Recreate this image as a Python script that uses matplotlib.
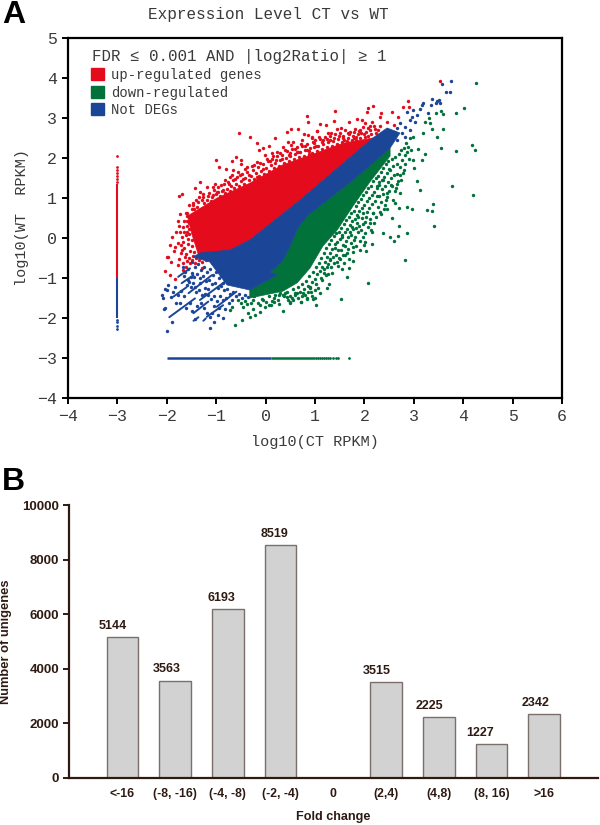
import numpy as np
import matplotlib
matplotlib.use("Agg")
import matplotlib.pyplot as plt
from matplotlib.patches import Patch, Polygon

# --- panel A in axis units (log10 RPKM) ---
# solid parts of the cloud, as outlines
up_core = [(-1.58, 0.55), (-1.5, 0.125), (-1.36, -0.42), (-0.72, -0.3), (-0.32, -0.05), (0.70, 0.95),
           (2.17, 2.5), (1.57, 2.37), (0.90, 2.07), (0.35, 1.83), (-0.32, 1.37), (-0.98, 1.0)]
notdeg_core = [(-1.47, -0.475), (-1.13, -0.6), (-0.78, -1.175), (-0.32, -1.3), (0.23, -0.925), (0.09, -0.85),
               (0.33, -0.6), (0.49, -0.225), (0.66, 0.275), (0.86, 0.575), (1.77, 1.45), (2.52, 2.25),
               (2.72, 2.625), (2.46, 2.75), (2.17, 2.5), (0.70, 0.95), (-0.32, -0.05), (-0.72, -0.3), (-1.33, -0.375)]
down_core = [(-0.32, -1.5), (0.35, -1.33), (0.64, -1.12), (0.90, -0.75), (1.16, -0.2), (1.45, 0.2),
             (1.77, 0.8), (2.11, 1.4), (2.52, 2.05), (2.52, 2.25), (1.77, 1.45), (0.86, 0.575), (0.66, 0.275),
             (0.49, -0.225), (0.33, -0.6), (0.09, -0.85), (0.23, -0.925), (-0.32, -1.3)]

# single dots outside the solid parts
up_points = [(0.83, 3.06), (0.85, 2.91), (-0.54, 2.62), (-0.32, 2.53), (-0.18, 2.38), (0.20, 2.49), (0.43, 2.64),
             (0.52, 2.72), (0.65, 2.72), (0.46, 2.41), (0.56, 2.41), (0.73, 2.45), (0.78, 2.59), (0.86, 2.57),
             (1.05, 2.68), (0.93, 2.49), (-1.01, 1.95), (-0.94, 1.77), (-0.59, 2.03), (-0.68, 1.92), (-0.50, 1.95),
             (-0.49, 1.85), (-0.80, 1.72), (-0.67, 1.70), (-1.33, 1.39), (-1.70, 1.10), (-1.75, 1.06), (-1.42, 1.26),
             (-1.18, 1.27), (-1.06, 1.28), (-0.82, 1.45), (-0.72, 1.53), (-0.52, 1.57), (-0.38, 1.77), (-0.28, 1.80),
             (-0.17, 1.91), (-0.05, 2.24), (0.07, 2.30), (-0.13, 2.20), (-0.01, 2.07), (0.12, 2.12), (0.24, 2.16),
             (0.36, 2.28), (0.49, 2.12), (0.63, 2.16), (0.83, 2.20), (0.98, 2.37), (-1.46, 0.87), (-1.60, 0.63),
             (-1.26, 1.03), (-0.96, 1.16),
             (-1.62, 0.63), (-1.46, 0.82), (-1.78, 0.43), (-1.56, 0.37), (-1.90, 0.02), (-1.73, 0.16), (-1.60, 0.16),
             (-1.77, -0.12), (-1.94, -0.18), (-1.83, -0.22), (-1.97, -0.47), (-2.0, -0.48), (-1.70, -0.30),
             (-1.63, -0.47), (-1.92, -0.59), (-2.04, -0.83), (-1.94, -0.93), (-1.83, -1.03), (-1.53, -0.63),
             (-1.29, -0.76), (-1.67, -0.09), (-1.50, -0.05), (-1.55, 0.1), (-1.5, -0.2), (-1.45, -0.35), (-1.6, 0.3),
             (-1.5, 0.35), (-1.4, -0.5),
             (2.89, 3.43), (2.79, 3.27), (2.91, 3.27), (2.55, 3.16), (2.33, 3.12), (2.17, 3.30), (2.08, 3.26),
             (2.06, 3.16), (1.40, 3.17), (1.38, 2.93), (1.69, 2.91), (1.86, 2.97), (1.95, 2.95), (2.01, 2.87),
             (2.15, 2.91), (2.32, 3.03), (2.45, 2.91), (2.59, 2.82), (2.69, 3.03), (1.10, 2.85), (1.22, 2.82),
             (1.05, 2.67), (1.27, 2.62), (1.44, 2.72), (1.52, 2.74), (1.67, 2.62), (1.78, 2.66), (1.91, 2.70),
             (2.08, 2.74), (0.93, 2.53), (1.14, 2.41), (1.30, 2.45), (1.57, 2.49), (1.84, 2.53), (3.54, 3.92)]
# the thick speckle along the upper edge and the left end of the red part
up_fringe = [(-1.43, 0.63), (-1.38, 0.78), (-1.41, 0.95), (-1.35, 1.02), (-1.3, 0.72), (-1.24, 0.88), (-1.27, 1.1),
             (-1.19, 0.96), (-1.21, 0.78), (-1.13, 0.86), (-1.15, 1.13), (-1.09, 1.02), (-1.04, 1.19), (-1.06, 1.07),
             (-1.0, 1.1), (-0.96, 1.27), (-0.92, 1.06), (-0.89, 1.18), (-0.85, 1.34), (-0.83, 1.12), (-0.79, 1.22),
             (-0.76, 1.4), (-0.73, 1.17), (-0.7, 1.3), (-0.66, 1.46), (-0.63, 1.24), (-0.6, 1.36), (-0.57, 1.52),
             (-0.54, 1.3), (-0.5, 1.42), (-0.47, 1.6), (-0.44, 1.36), (-0.41, 1.5), (-0.37, 1.66), (-0.34, 1.44),
             (-0.3, 1.56), (-0.26, 1.7), (-0.23, 1.48), (-0.2, 1.62), (-0.16, 1.77), (-0.13, 1.55), (-0.09, 1.68),
             (-0.06, 1.85), (-0.03, 1.6), (0.0, 1.74), (0.04, 1.92), (0.07, 1.68), (0.1, 1.82), (0.13, 1.97),
             (0.17, 1.74), (0.2, 1.88), (0.24, 2.04), (0.27, 1.8), (0.3, 1.94), (0.34, 2.08), (0.37, 1.88),
             (0.41, 2.0), (0.44, 2.17), (0.47, 1.93), (0.5, 2.06), (0.54, 2.22), (0.57, 1.97), (0.6, 2.1),
             (0.64, 2.28), (0.67, 2.02), (0.7, 2.15), (0.74, 2.31), (0.77, 2.06), (0.8, 2.2), (0.84, 2.35),
             (0.87, 2.1), (0.9, 2.24), (0.94, 2.13), (0.97, 2.28), (1.01, 2.44), (1.04, 2.18), (1.07, 2.31),
             (1.11, 2.48), (1.14, 2.22), (1.17, 2.35), (1.21, 2.52), (1.24, 2.27), (1.27, 2.4), (1.31, 2.56),
             (1.34, 2.3), (1.37, 2.43), (1.41, 2.6), (1.44, 2.34), (1.47, 2.47), (1.51, 2.63), (1.54, 2.39),
             (1.57, 2.54), (1.61, 2.69), (1.64, 2.42), (1.67, 2.5), (1.71, 2.66), (1.74, 2.44), (1.77, 2.56),
             (1.81, 2.72), (1.84, 2.46), (1.87, 2.6), (1.91, 2.5), (1.94, 2.63), (1.97, 2.78), (2.01, 2.53),
             (2.04, 2.66), (2.07, 2.56), (2.11, 2.7), (2.14, 2.6), (2.21, 2.72), (2.24, 2.62), (2.31, 2.8),
             (-1.62, 0.08), (-1.58, -0.15), (-1.65, -0.25), (-1.56, 0.22), (-1.66, 0.42), (-1.7, 0.02), (-1.62, -0.4),
             (-1.55, -0.5), (-1.48, -0.55), (-1.42, -0.62), (-1.35, -0.55), (-1.28, -0.6), (-1.2, -0.55), (-1.12, -0.52),
             (-1.05, -0.48), (-1.52, 0.48), (-1.6, 0.55), (-1.68, 0.28), (-1.58, -0.02), (-1.53, -0.32), (-1.47, -0.45),
             (-1.72, -0.38), (-1.76, -0.52), (-1.68, -0.62), (-1.62, -0.72), (-1.72, -0.18),
             (-1.36, 0.9), (-1.28, 0.94), (-1.33, 1.14), (-1.17, 1.06), (-1.1, 0.92), (-1.02, 1.34), (-0.98, 1.14),
             (-0.9, 1.32), (-0.86, 1.2), (-0.74, 1.34), (-0.69, 1.58), (-0.61, 1.48), (-0.55, 1.66), (-0.46, 1.48),
             (-0.42, 1.72), (-0.33, 1.58), (-0.24, 1.82), (-0.18, 1.52), (-0.11, 1.88), (-0.05, 1.72), (0.02, 1.98),
             (0.09, 1.92), (0.15, 2.05), (0.22, 1.96), (0.29, 2.12), (0.33, 1.98), (0.39, 2.2), (0.47, 2.08),
             (0.52, 2.32), (0.59, 2.22), (0.66, 2.14), (0.71, 2.36), (0.79, 2.3), (0.88, 2.18), (0.95, 2.4),
             (1.02, 2.3), (1.09, 2.52), (1.16, 2.44), (1.25, 2.48), (1.33, 2.62), (1.39, 2.5), (1.49, 2.56),
             (1.59, 2.46), (1.69, 2.6), (1.79, 2.5), (1.89, 2.68), (2.0, 2.6), (2.12, 2.8), (2.2, 2.8), (2.28, 2.7),
             (-1.75, 0.3), (-1.82, 0.14), (-1.66, 0.14), (-1.86, -0.32), (-1.78, -0.68), (-1.68, -0.8), (-1.6, -0.58),
             (-1.74, 0.6), (-1.6, 0.42), (-1.5, 0.72), (-1.55, 0.82), (-1.45, 0.72)]
notdeg_points = [(3.75, 3.92), (3.58, 3.84), (3.65, 3.66), (3.73, 3.65), (3.37, 3.47), (3.47, 3.43), (3.52, 3.45),
                 (3.54, 3.37), (3.45, 3.37), (3.19, 3.37), (3.16, 3.32), (3.34, 3.32), (3.13, 3.22), (2.99, 3.20),
                 (3.07, 3.07), (2.86, 3.14), (2.96, 3.03), (3.29, 3.12), (2.92, 2.95), (3.02, 2.91), (2.72, 2.87),
                 (2.82, 2.78), (2.65, 2.74), (2.92, 2.70), (2.59, 2.66), (2.76, 2.62), (2.82, 2.53), (2.65, 2.45),
                 (-1.99, -2.33), (-1.89, -2.09), (-1.13, -2.26), (-1.04, -2.11), (-2.04, -1.76), (-2.06, -1.78),
                 (-2.10, -1.43), (-2.07, -1.51), (-1.99, -1.30), (-2.04, -1.28), (-1.97, -1.18), (-1.92, -1.48),
                 (-1.83, -1.23), (-1.67, -0.72), (-1.63, -0.84), (-1.56, -1.09), (-1.33, -1.13), (-1.43, -1.22),
                 (-1.23, -1.26), (-1.16, -1.43), (-1.53, -1.63), (-1.39, -1.70), (-1.09, -1.88), (-0.96, -1.93),
                 (-0.87, -2.01), (-1.19, -1.88), (-1.13, -1.97), (-1.43, -2.02)]
# the speckle between the rows at the lower left and along the solid part
notdeg_fringe = [(-1.5, -0.6), (-1.42, -0.72), (-1.36, -0.66), (-1.3, -0.8), (-1.24, -0.72), (-1.18, -0.86), (-1.12, -0.78),
                 (-1.06, -0.92), (-1.0, -0.84), (-0.95, -1.0), (-0.9, -0.95), (-0.86, -1.12), (-1.58, -0.78), (-1.5, -0.88),
                 (-1.44, -0.98), (-1.38, -0.9), (-1.32, -1.0), (-1.26, -0.96), (-1.2, -1.08), (-1.14, -1.04), (-1.08, -1.16),
                 (-1.02, -1.12), (-0.97, -1.26), (-0.91, -1.2), (-0.84, -1.3), (-0.78, -1.28), (-0.72, -1.4), (-0.66, -1.34),
                 (-0.6, -1.46), (-0.54, -1.4), (-0.48, -1.5), (-0.42, -1.42), (-0.36, -1.48), (-0.3, -1.4), (-0.24, -1.46),
                 (-0.18, -1.36), (-1.66, -0.96), (-1.6, -1.18), (-1.52, -1.22), (-1.46, -1.12), (-1.4, -1.36), (-1.34, -1.3),
                 (-1.28, -1.42), (-1.22, -1.4), (-1.16, -1.28), (-1.1, -1.52), (-1.04, -1.46), (-0.98, -1.58), (-0.92, -1.44),
                 (-0.86, -1.56), (-0.8, -1.5), (-0.74, -1.62), (-0.68, -1.56), (-1.72, -1.32), (-1.66, -1.44), (-1.74, -1.62),
                 (-1.62, -1.74), (-1.48, -1.82), (-1.3, -1.62), (-1.24, -1.74), (-1.04, -1.7), (-0.94, -1.76), (-0.82, -1.78),
                 (-1.82, -1.62), (-1.88, -1.36), (-1.78, -1.42), (-1.52, -0.98), (-1.58, -1.04)]
down_points = [(3.06, 1.42), (3.13, 1.19), (2.54, 1.33), (2.65, 1.36), (2.61, 1.17), (2.73, 1.13), (2.46, 1.03),
               (2.62, 0.88), (2.41, 0.82), (2.46, 0.72), (2.71, 0.74), (2.86, 0.77), (2.97, 0.72), (3.27, 0.70),
               (3.36, 0.67), (3.39, 0.85), (3.40, 0.30), (2.56, 0.49), (2.33, 0.59), (2.70, 0.31), (2.38, 0.12),
               (2.51, 0.03), (2.59, -0.08), (2.69, 0.05), (2.86, 0.12), (2.83, -0.54), (2.15, 0.16), (2.15, -0.16),
               (2.03, -0.32), (1.92, -0.30), (1.76, -0.36), (1.76, -0.58), (1.69, -0.74), (1.54, -0.78), (1.65, -0.97),
               (2.08, -1.13), (1.28, -1.16), (1.24, -1.26), (1.52, -1.53), (1.03, -1.68), (0.95, -1.53), (0.83, -1.51),
               (0.71, -1.59), (0.49, -1.62), (0.53, -1.51), (1.18, -0.87), (1.34, -0.88), (1.44, -0.59), (1.57, -0.43),
               (1.64, -0.38), (2.01, -0.09), (1.98, 0.03), (2.11, 0.37), (2.01, 0.41), (2.18, 0.62), (1.98, 0.62),
               (1.88, 0.53), (1.74, 0.28), (1.71, 0.16), (1.78, -0.05), (1.54, 0.03), (1.40, -0.26), (1.30, -0.55),
               (1.24, -0.73), (1.14, -1.05), (1.0, -1.30), (0.90, -1.22), (0.76, -1.38), (0.60, -1.38), (0.43, -1.47),
               (4.25, 3.88), (4.02, 3.24), (3.86, 3.12), (3.60, 3.09), (3.55, 3.18), (3.45, 3.13), (3.23, 2.91),
               (3.31, 2.99), (3.33, 2.87), (3.36, 2.72), (3.18, 2.62), (3.60, 2.72), (3.46, 2.53), (3.56, 2.24),
               (3.85, 2.17), (4.18, 2.32), (4.24, 2.19), (3.23, 2.10), (3.09, 2.22), (3.16, 1.95), (2.92, 2.49),
               (2.99, 2.53), (2.89, 2.28), (2.82, 2.07), (2.99, 1.95), (3.01, 1.74), (2.80, 1.70), (3.78, 1.29),
               (4.20, 1.08), (2.72, 1.57), (2.52, 1.70), (2.38, 1.45), (2.25, 1.24), (2.3, 1.4), (2.46, 1.13),
               (-0.62, -2.18), (-0.72, -1.80), (-0.48, -2.05), (-0.32, -1.97), (-0.21, -1.93), (-0.11, -1.84),
               (-0.46, -1.72), (-0.35, -1.87), (0.35, -1.82), (0.07, -1.68), (0.28, -1.65), (0.49, -1.59), (0.71, -1.59),
               (0.83, -1.53), (1.01, -1.51), (-0.05, -1.55), (0.16, -1.51), (0.35, -1.43), (0.63, -1.38), (0.90, -1.26),
               (-0.55, -1.55), (-0.68, -1.72)]
# the thick speckle along the lower edge of the green part
down_fringe = [(-0.25, -1.56), (-0.15, -1.62), (-0.08, -1.52), (0.0, -1.6), (0.06, -1.46), (0.12, -1.58), (0.2, -1.42),
               (0.25, -1.54), (0.3, -1.38), (0.38, -1.46), (0.44, -1.36), (0.5, -1.46), (0.56, -1.28), (0.6, -1.42),
               (0.66, -1.22), (0.7, -1.36), (0.74, -1.14), (0.78, -1.28), (0.82, -1.08), (0.86, -1.2), (0.88, -0.94),
               (0.93, -1.1), (0.96, -0.86), (0.99, -1.02), (1.02, -0.72), (1.05, -0.9), (1.08, -0.62), (1.1, -0.82),
               (1.13, -0.5), (1.15, -0.72), (1.18, -0.38), (1.2, -0.6), (1.23, -0.26), (1.25, -0.48), (1.28, -0.16),
               (1.3, -0.38), (1.33, -0.04), (1.35, -0.28), (1.38, 0.06), (1.4, -0.16), (1.43, 0.12), (1.45, -0.1),
               (1.48, 0.16), (1.5, -0.02), (1.53, 0.24), (1.55, 0.08), (1.58, 0.34), (1.6, 0.14), (1.63, 0.44),
               (1.65, 0.22), (1.68, 0.52), (1.7, 0.32), (1.73, 0.62), (1.75, 0.42), (1.78, 0.68), (1.8, 0.48),
               (1.83, 0.8), (1.85, 0.58), (1.88, 0.9), (1.9, 0.68), (1.93, 0.98), (1.95, 0.76), (1.98, 1.08),
               (2.0, 0.82), (2.03, 1.16), (2.05, 0.92), (2.08, 1.24), (2.1, 1.0), (2.13, 1.3), (2.15, 1.08),
               (2.18, 1.42), (2.2, 1.16), (2.23, 1.5), (2.25, 1.3), (2.28, 1.56), (2.3, 1.32), (2.33, 1.66),
               (2.35, 1.44), (2.38, 1.74), (2.4, 1.52), (2.43, 1.84), (2.45, 1.62), (2.48, 1.92), (2.5, 1.72),
               (2.55, 1.98), (2.58, 1.8), (2.62, 2.02), (2.65, 1.86), (2.7, 2.1), (2.75, 2.2), (2.8, 2.26), (2.84, 2.38),
               (1.12, -1.0), (1.26, -0.66), (1.36, -0.48), (1.46, -0.3), (1.56, -0.18), (1.66, 0.02), (1.76, 0.22),
               (1.86, 0.38), (1.96, 0.5), (2.06, 0.66), (2.16, 0.86), (2.26, 1.06), (2.36, 1.22), (0.8, -1.42),
               (1.02, -1.14), (0.92, -1.34), (1.22, -0.92), (1.48, -0.5), (1.6, -0.2),
               (1.19, -0.78), (1.27, -0.9), (1.33, -0.72), (1.31, -0.52), (1.39, -0.62), (1.42, -0.42), (1.47, -0.7),
               (1.51, -0.52), (1.53, -0.3), (1.58, -0.62), (1.61, -0.42), (1.62, -0.08), (1.67, -0.28), (1.69, -0.52),
               (1.72, -0.12), (1.73, 0.08), (1.77, -0.22), (1.81, 0.02), (1.82, 0.25), (1.84, -0.2), (1.87, 0.14),
               (1.89, 0.3), (1.91, -0.08), (1.94, 0.2), (1.97, 0.36), (1.99, -0.18), (2.02, 0.12), (2.04, 0.52),
               (2.07, 0.28), (2.09, 0.74), (2.12, 0.48), (2.14, 0.2), (2.17, 0.62), (2.19, 0.38), (2.21, 0.92),
               (2.24, 0.52), (2.27, 0.78), (2.29, 1.04), (2.31, 0.66), (2.34, 0.9), (2.37, 1.1), (2.39, 0.72),
               (2.42, 1.3), (2.44, 0.95), (2.47, 1.4), (2.49, 1.18), (2.53, 1.5), (2.55, 1.3), (2.58, 0.96),
               (2.6, 1.58), (2.63, 1.24), (2.66, 1.6), (2.68, 1.42), (2.72, 1.78), (2.74, 1.46), (2.77, 1.95),
               (2.79, 1.62), (2.83, 1.86), (2.86, 2.16), (2.9, 1.98), (2.94, 2.2),
               (0.55, -1.56), (0.66, -1.5), (0.74, -1.46), (0.86, -1.36), (0.94, -1.44), (1.06, -1.24), (1.1, -1.38),
               (0.46, -1.56), (0.4, -1.38), (0.27, -1.42), (0.18, -1.6), (0.1, -1.68), (-0.02, -1.72), (-0.12, -1.68),
               (-0.26, -1.78), (-0.38, -1.66), (-0.5, -1.62), (-0.42, -1.58), (-0.3, -1.62)]

# diagonal rows of low-count genes at the lower left: x0, y0, x1, y1
notdeg_rows = [(-1.95, -1.98, -1.43, -1.51), (-1.46, -1.88, -1.16, -1.59), (-1.46, -2.07, -1.36, -1.98),
               (-1.26, -2.07, -1.21, -2.01), (-1.19, -1.97, -0.86, -1.68), (-1.87, -1.47, -1.60, -1.23),
               (-1.70, -1.13, -1.46, -0.93), (-1.77, -0.97, -1.53, -0.76), (-1.56, -1.38, -1.09, -0.93),
               (-1.33, -1.55, -0.82, -1.09), (-0.99, -1.72, -0.59, -1.34)]

# genes with no reads in one library
ct_zero_up = [-1.0, 1.35]
ct_zero_notdeg = [-2.0, -1.0]
ct_zero_up_dots = [1.4, 1.48, 1.55, 1.62, 1.7, 1.77, 2.05]
ct_zero_notdeg_dots = [-2.05, -2.1, -2.2, -2.27]
wt_zero_notdeg = [-2.0, 0.1]
wt_zero_down = [0.1, 1.0]
wt_zero_down_dots = [1.03, 1.07, 1.1, 1.14, 1.18, 1.22, 1.26, 1.3, 1.36, 1.42, 1.47, 1.68]

# --- panel B ---
fold_labels = ["<-16", "(-8, -16)", "(-4, -8)", "(-2, -4)", "0", "(2,4)", "(4,8)", "(8, 16)", ">16"]
unigene_counts = [5144, 3563, 6193, 8519, 0, 3515, 2225, 1227, 2342]

RED = "#e30b1c"
GREEN = "#00723a"
BLUE = "#1b4596"
GREY = "#3a3a3a"
BROWN = "#2e1a12"
MONO = ["Liberation Mono", "DejaVu Sans"]

plt.rcParams["font.family"] = MONO

fig = plt.figure(figsize=(6, 8.25), dpi=100)

# panel A
ax = fig.add_axes([68 / 600, 1 - 398 / 825, 494 / 600, 360 / 825])
ax.set_xlim(-4, 6)
ax.set_ylim(-4, 5)

for core, col, z in [(up_core, RED, 2), (down_core, GREEN, 2), (notdeg_core, BLUE, 3)]:
    ax.add_patch(Polygon(core, closed=True, facecolor=col, edgecolor=col, linewidth=0.5, zorder=z))

for x0, y0, x1, y1 in notdeg_rows:
    ax.plot([x0, x1], [y0, y1], color=BLUE, lw=1.4, zorder=2, solid_capstyle="round")

for pts, col, z in [(up_points + up_fringe, RED, 1.5), (down_points + down_fringe, GREEN, 1.5),
                    (notdeg_points + notdeg_fringe, BLUE, 1.6)]:
    pts = np.array(pts)
    ax.scatter(pts[:, 0], pts[:, 1], s=6, color=col, linewidths=0, zorder=z)

ax.plot([-3, -3], ct_zero_up, color=RED, lw=1.5, zorder=2, solid_capstyle="butt")
ax.plot([-3, -3], ct_zero_notdeg, color=BLUE, lw=1.5, zorder=2, solid_capstyle="butt")
ax.scatter([-3] * len(ct_zero_up_dots), ct_zero_up_dots, s=4, color=RED, linewidths=0)
ax.scatter([-3] * len(ct_zero_notdeg_dots), ct_zero_notdeg_dots, s=4, color=BLUE, linewidths=0)
ax.plot(wt_zero_notdeg, [-3, -3], color=BLUE, lw=1.8, zorder=2, solid_capstyle="butt")
ax.plot(wt_zero_down, [-3, -3], color=GREEN, lw=1.8, zorder=2, solid_capstyle="butt")
ax.scatter(wt_zero_down_dots, [-3] * len(wt_zero_down_dots), s=4, color=GREEN, linewidths=0)

for s in ax.spines.values():
    s.set_linewidth(1.6)
ax.tick_params(length=4, width=1.4, labelsize=12, labelcolor=GREY, pad=4)
ax.set_xticks(range(-4, 7))
ax.set_yticks(range(-4, 6))
ax.set_xlabel("log10(CT RPKM)", fontsize=11, color=GREY, labelpad=8)
ax.set_ylabel("log10(WT  RPKM)", fontsize=11, color=GREY, labelpad=6)
fig.text(268 / 600, 1 - 14 / 825, "Expression Level CT vs WT", fontsize=11.5, color=GREY, ha="center", va="center")
ax.text((92 - 68) / 494, 1 - (56 - 38) / 360, "FDR \u2264 0.001 AND |log2Ratio| \u2265 1",
        transform=ax.transAxes, fontsize=11.3, color=GREY, va="center")
handles = [Patch(color=RED, label="up-regulated genes"), Patch(color=GREEN, label="down-regulated"),
           Patch(color=BLUE, label="Not DEGs")]
ax.legend(handles=handles, loc="upper left", bbox_to_anchor=((92 - 68) / 494 - 0.002, 1 - (68 - 38) / 360),
          frameon=False, fontsize=10, labelcolor=GREY, handlelength=0.95, handleheight=0.95, handletextpad=0.5,
          labelspacing=0.26, borderpad=0, borderaxespad=0)

# panel B
bx = fig.add_axes([69 / 600, 1 - 777.7 / 825, 529 / 600, 272.7 / 825])
pos = np.arange(len(unigene_counts))
bx.bar(pos, unigene_counts, width=0.6, color="#d2d2d2", edgecolor="#7b6f6b", linewidth=1.0)
# labels sit a bit left of the bars in the original
label_shift = [-7, -6, -4.5, -4.5, 0, -6.5, -6.5, -8.5, -6]
for p, c, dx in zip(pos, unigene_counts, label_shift):
    if c > 0:
        bx.annotate(str(c), (p, c), xytext=(dx, 8), textcoords="offset points", ha="center", va="center",
                    fontsize=9, fontweight="bold", family="Liberation Sans", color=BROWN)
bx.set_xlim(-1.015, 9.02)
bx.set_ylim(0, 10000)
bx.set_xticks(pos)
bx.set_xticklabels(fold_labels)
bx.set_yticks(range(0, 10001, 2000))
bx.spines["top"].set_visible(False)
bx.spines["right"].set_visible(False)
bx.spines["left"].set_linewidth(1.6)
bx.spines["bottom"].set_linewidth(1.6)
bx.spines["left"].set_color(BROWN)
bx.spines["bottom"].set_color(BROWN)
bx.tick_params(axis="x", length=0, pad=7.5)
bx.tick_params(axis="y", length=4, width=1.4, color=BROWN, pad=3)
for t in bx.get_xticklabels() + bx.get_yticklabels():
    t.set_family("Liberation Sans")
    t.set_fontweight("bold")
    t.set_fontsize(9.5)
    t.set_color(BROWN)
for t in bx.get_xticklabels():
    t.set_fontsize(8.8)
bx.set_xlabel("Fold change", fontsize=9.1, fontweight="bold", family="Liberation Sans", color=BROWN, labelpad=8)
fig.text(6 / 600, 1 - 642 / 825, "Number of unigenes", rotation=90, fontsize=9.3, fontweight="bold",
         family="Liberation Sans", color=BROWN, ha="center", va="center")

fig.text(2 / 600, 1 - 15 / 825, "A", fontsize=23, fontweight="bold", family="Liberation Sans", color="black", va="center")
fig.text(2 / 600, 1 - 482 / 825, "B", fontsize=23, fontweight="bold", family="Liberation Sans", color="black", va="center")

fig.savefig("out.png", dpi=100)
